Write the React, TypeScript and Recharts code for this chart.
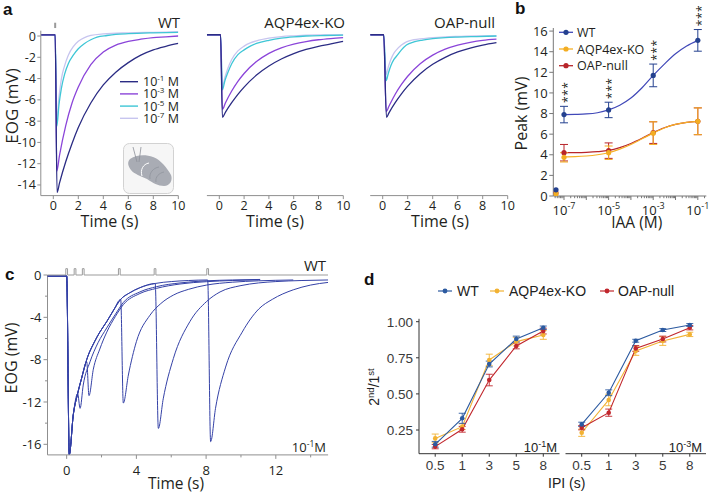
import React from 'react';
import { LineChart, ComposedChart, Line, XAxis, YAxis, ErrorBar, ReferenceLine, Legend, LabelList } from 'recharts';

const W = 709;
const H = 493;
const SANS = '"Open Sans", "Noto Sans", sans-serif';
const ARIAL = '"Liberation Sans", Arial, sans-serif';
const AXIS_GRAY = '#8f8f8f';
const TEXT = '#231f20';

type Pt = [number, number];

// ---------------- Panel a data ----------------
const aConcLabels = ['-1', '-3', '-5', '-7'];
const aColors = ['#2b2c84', '#8b45d9', '#3fc6d6', '#c7c5ef'];
const aTimeTicks = [0, 2, 4, 6, 8, 10];
const aVoltTicks = [0, -2, -4, -6, -8, -10, -12, -14];

const wt1: Pt[] = [[-1, 0.1], [0.15, 0.1], [0.3, -14.7], [0.5, -13.8], [1, -11.8], [1.5, -10.1], [2, -8.6], [3, -6.3], [4, -4.6], [5, -3.4], [6, -2.5], [7, -1.8], [8, -1.3], [9, -0.97], [10, -0.7]];
const wt3: Pt[] = [[-1, 0.1], [0.15, 0.1], [0.28, -12.7], [0.5, -11.2], [1, -8.4], [1.5, -6.3], [2, -4.8], [3, -2.7], [4, -1.5], [5, -0.85], [6, -0.5], [7, -0.3], [8, -0.15], [9, -0.08], [10, 0]];
const wt5: Pt[] = [[-1, 0.1], [0.15, 0.1], [0.28, -8.5], [0.45, -6.5], [0.65, -4.9], [0.9, -3.6], [1.2, -2.6], [1.6, -1.8], [2, -1.2], [2.5, -0.7], [3, -0.35], [3.5, -0.1], [4.3, 0.05], [5, 0.15], [6, 0.22], [8, 0.3], [10, 0.35]];
const wt7: Pt[] = [[-1, 0.1], [0.15, 0.1], [0.27, -8.0], [0.45, -5.8], [0.65, -4.0], [0.9, -2.8], [1.2, -1.8], [1.6, -1.0], [2, -0.5], [2.5, -0.15], [3, 0.05], [4, 0.2], [6, 0.3], [8, 0.35], [10, 0.4]];

const kq1: Pt[] = [[-1, 0.12], [0.1, 0.12], [0.25, -7.65], [0.5, -7.15], [1, -6.27], [1.5, -5.48], [2, -4.8], [3, -3.67], [4, -2.82], [5, -2.16], [6, -1.65], [7, -1.26], [8, -0.97], [9, -0.74], [10, -0.5]];
const kq3: Pt[] = [[-1, 0.12], [0.1, 0.12], [0.25, -6.9], [0.5, -6.27], [1, -5.17], [1.5, -4.26], [2, -3.52], [3, -2.4], [4, -1.63], [5, -1.11], [6, -0.76], [7, -0.52], [8, -0.35], [9, -0.24], [10, -0.16]];
const kq5: Pt[] = [[-1, 0.12], [0.1, 0.12], [0.25, -5.07], [0.45, -4.2], [0.7, -3.4], [1, -2.6], [1.5, -1.75], [2, -1.3], [2.5, -0.95], [3, -0.7], [4, -0.4], [5, -0.2], [6, -0.08], [7, 0], [8.5, 0.05], [10, 0.08]];
const kq7: Pt[] = [[-1, 0.12], [0.1, 0.12], [0.25, -4.8], [0.45, -3.9], [0.7, -3.0], [1, -2.2], [1.5, -1.4], [2, -0.95], [2.5, -0.65], [3, -0.45], [4, -0.2], [5, -0.05], [6, 0.02], [8, 0.1], [10, 0.12]];

const op1: Pt[] = [[-1, 0.12], [0.08, 0.12], [0.3, -7.65], [0.5, -7.22], [1, -6.26], [1.5, -5.43], [2, -4.71], [3, -3.54], [4, -2.66], [5, -2.0], [6, -1.5], [7, -1.13], [8, -0.85], [9.1, -0.62]];
const op3: Pt[] = [[-1, 0.12], [0.08, 0.12], [0.28, -7.1], [0.5, -6.6], [1, -5.47], [1.5, -4.55], [2, -3.78], [3, -2.61], [4, -1.8], [5, -1.24], [6, -0.86], [7, -0.6], [8, -0.41], [9.1, -0.3]];
const op5: Pt[] = [[-1, 0.12], [0.08, 0.12], [0.28, -4.2], [0.45, -3.5], [0.65, -2.8], [0.9, -2.2], [1.1, -1.9], [1.5, -1.3], [1.9, -0.85], [2.5, -0.55], [3.2, -0.38], [4, -0.25], [5, -0.15], [6, -0.1], [7.5, -0.05], [9.1, 0]];
const op7: Pt[] = [[-1, 0.12], [0.08, 0.12], [0.27, -3.6], [0.45, -2.9], [0.65, -2.2], [0.9, -1.6], [1.1, -1.3], [1.5, -0.85], [1.9, -0.55], [2.5, -0.35], [3.2, -0.25], [4, -0.15], [5, -0.08], [6, -0.04], [7.5, 0], [9.1, 0]];

// ---------------- Panel b data ----------------
const bExp = [-7, -5, -3, -1];
const bWT = [7.9, 8.35, 11.7, 15.1];
const bWTerr = [0.8, 0.75, 1.1, 1.05];
const bKO = [3.75, 4.2, 6.1, 7.25];
const bKOerr = [0.45, 0.65, 1.1, 1.3];
const bOAP = [4.2, 4.4, 6.15, 7.25];
const bOAPerr = [0.8, 0.75, 1.05, 1.3];
const bZeroX = -7.36;
const bZero = [0.6, 0.2, 0.3];
const bFitX = [-7, -6.5, -6, -5.5, -5, -4.5, -4, -3.5, -3, -2.5, -2, -1.5, -1];
const bWTfit = [7.9, 7.92, 7.96, 8.08, 8.35, 8.8, 9.5, 10.5, 11.7, 12.8, 13.8, 14.55, 15.1];
const bKOfit = [3.8, 3.82, 3.88, 4.0, 4.2, 4.55, 5.0, 5.55, 6.1, 6.6, 6.95, 7.15, 7.25];
const bOAPfit = [4.2, 4.21, 4.24, 4.3, 4.42, 4.7, 5.1, 5.6, 6.15, 6.62, 6.95, 7.15, 7.25];
const bSig = ['***', '***', '***', '***'];
const bGroups = ['WT', 'AQP4ex-KO', 'OAP-null'];
const bColors = ['#24418f', '#f3ad22', '#b8252a'];
const bFitColors = ['#4048b8', '#f6b026', '#b8252a'];
const bYTicks = [0, 2, 4, 6, 8, 10, 12, 14, 16];

// ---------------- Panel c data ----------------
const cStimTimes = [0, 0.48, 0.95, 3.02, 5.07, 8.09];
const c05: Pt[] = [[-1.1, -0.1], [0, -0.1], [0.15, -16.95], [0.38, -13.2], [0.63, -11.2], [0.77, -12.6], [0.95, -10.4], [1.34, -8.2], [1.8, -6.4], [2.3, -5.0], [2.8, -3.7], [3.25, -2.6], [4.2, -1.6], [5.16, -1.1], [6.5, -0.75], [8, -0.55], [9.5, -0.47], [11.1, -0.42]];
const c1: Pt[] = [[-1.1, -0.1], [0, -0.1], [0.15, -16.95], [0.38, -13.2], [0.63, -11.2], [0.85, -9.8], [1.15, -8.2], [1.28, -11.4], [1.53, -8.9], [1.9, -7.0], [2.3, -5.4], [2.8, -3.9], [3.25, -2.8], [4.2, -1.75], [5.16, -1.26], [6.5, -0.85], [8.03, -0.63], [9.5, -0.52], [11.1, -0.45]];
const c3: Pt[] = [[-1.1, -0.1], [0, -0.1], [0.15, -16.95], [0.38, -13.2], [0.63, -11.2], [0.85, -9.8], [1.15, -8.0], [1.6, -6.3], [1.9, -5.4], [2.3, -4.4], [2.7, -3.3], [3.1, -2.3], [3.25, -12.1], [3.54, -9.45], [4.0, -6.3], [4.78, -3.8], [5.4, -2.7], [6.12, -1.9], [7, -1.35], [8.03, -0.95], [9.5, -0.68], [11, -0.55], [13, -0.47]];
const c5: Pt[] = [[-1.1, -0.1], [0, -0.1], [0.15, -16.95], [0.38, -13.2], [0.63, -11.2], [0.85, -9.8], [1.15, -8.0], [1.6, -6.3], [1.9, -5.4], [2.3, -4.4], [2.7, -3.3], [3.1, -2.3], [3.6, -1.7], [4.2, -1.2], [5.08, -0.8], [5.26, -14.5], [5.54, -11.7], [6.12, -7.9], [7.07, -4.4], [8.03, -2.5], [8.8, -1.6], [10, -1.0], [11, -0.75], [12, -0.62], [13.5, -0.52], [15, -0.47]];
const c8: Pt[] = [[-1.1, -0.1], [0, -0.1], [0.15, -16.95], [0.38, -13.2], [0.63, -11.2], [0.85, -9.8], [1.15, -8.0], [1.6, -6.3], [1.9, -5.4], [2.3, -4.4], [2.7, -3.3], [3.1, -2.3], [3.6, -1.7], [4.2, -1.2], [5.08, -0.8], [6, -0.62], [7, -0.52], [8.09, -0.47], [8.26, -15.75], [8.54, -12.6], [9.12, -8.7], [10.07, -5.4], [11.03, -3.2], [11.8, -2.3], [13, -1.4], [14, -0.95], [15, -0.7]];
const cTimeTicks = [0, 2, 4, 6, 8, 10, 12, 14];
const cVoltTicks = [-16, -14, -12, -10, -8, -6, -4, -2, 0];

// ---------------- Panel d data ----------------
const ipiLabels = ['0.5', '1', '3', '5', '8'];
const dGroups = ['WT', 'AQP4ex-KO', 'OAP-null'];
const dColors = ['#2c5aa0', '#f2b233', '#c1272d'];
const dWT1 = [0.151, 0.331, 0.707, 0.88, 0.958];
const dWT1err = [0.02, 0.035, 0.02, 0.02, 0.012];
const dKO1 = [0.192, 0.273, 0.735, 0.862, 0.908];
const dKO1err = [0.03, 0.02, 0.04, 0.03, 0.03];
const dOAP1 = [0.135, 0.255, 0.596, 0.832, 0.935];
const dOAP1err = [0.015, 0.02, 0.04, 0.02, 0.02];
const dWT3 = [0.289, 0.508, 0.868, 0.942, 0.977];
const dWT3err = [0.015, 0.02, 0.01, 0.01, 0.01];
const dKO3 = [0.231, 0.458, 0.797, 0.866, 0.912];
const dKO3err = [0.025, 0.04, 0.03, 0.03, 0.015];
const dOAP3 = [0.266, 0.37, 0.815, 0.88, 0.958];
const dOAP3err = [0.015, 0.025, 0.02, 0.02, 0.015];
const dYTicks = [0.25, 0.5, 0.75, 1.0];

// ---------------- helpers ----------------
const rowsTV = (pts: Pt[]) => pts.map(([t, v]) => ({ t, v }));
const marginFor = (x1: number, y1: number, x2: number, y2: number, yw: number, xh: number) => ({
  left: x1 - yw, top: y1, right: W - x2, bottom: H - y2 - xh,
});

type TickOpts = {
  side: 'bottom' | 'left';
  len: (v: number) => number;
  label: (v: number) => React.ReactNode | null;
  gap: number;
  color: string;
  textColor: string;
  fontSize: number;
  fontFamily: string;
};
const makeTick = (o: TickOpts) => {
  const TickItem = (props: any) => {
    const { x, y, payload } = props;
    const v: number = payload.value;
    const L = o.len(v);
    const lab = o.label(v);
    const tp = { fontSize: o.fontSize, fontFamily: o.fontFamily, fill: o.textColor };
    if (o.side === 'bottom') {
      return (
        <g>
          {L > 0 ? <line x1={x} y1={y} x2={x} y2={y + L} stroke={o.color} strokeWidth={1} /> : null}
          {lab !== null ? <text x={x} y={y + o.gap} textAnchor="middle" {...tp}>{lab}</text> : null}
        </g>
      );
    }
    return (
      <g>
        {L > 0 ? <line x1={x - L} y1={y} x2={x} y2={y} stroke={o.color} strokeWidth={1} /> : null}
        {lab !== null ? <text x={x - o.gap} y={y} dy="0.36em" textAnchor="end" {...tp}>{lab}</text> : null}
      </g>
    );
  };
  return TickItem;
};

// ---------------- Panel a ----------------
const A_Y1 = 30.7;
const A_Y2 = 195.6;
const aXTick = makeTick({ side: 'bottom', len: () => 3.5, label: (v) => String(v), gap: 14.5, color: AXIS_GRAY, textColor: TEXT, fontSize: 12.5, fontFamily: SANS });
const aYTick = makeTick({ side: 'left', len: () => 3.5, label: (v) => String(v), gap: 5, color: AXIS_GRAY, textColor: TEXT, fontSize: 12.5, fontFamily: SANS });

const aLegend = () => (
  <svg width={72} height={56} style={{ overflow: 'visible', display: 'block' }}>
    {aConcLabels.map((lab, i) => (
      <g key={lab}>
        <line x1={4} x2={22} y1={7.7 + i * 12.2} y2={7.7 + i * 12.2} stroke={aColors[i]} strokeWidth={1.4} />
        <text x={27} y={7.7 + i * 12.2} dy="0.36em" fontSize={12.5} fontFamily={SANS} fill={TEXT}>
          10<tspan dy={-5} fontSize={8}>{lab}</tspan><tspan dy={5}> M</tspan>
        </text>
      </g>
    ))}
  </svg>
);

function TracePanel({ x1, x2, traces, showY, legend, stim }: { x1: number; x2: number; traces: Pt[][]; showY: boolean; legend?: boolean; stim?: boolean }) {
  const yw = showY ? 40 : 0;
  const order = [3, 2, 1, 0];
  return (
    <div style={{ position: 'absolute', left: 0, top: 0 }}>
      <LineChart width={W} height={H} margin={marginFor(x1, A_Y1, x2, A_Y2, yw, 30)}>
        <XAxis type="number" dataKey="t" domain={[-1, 10]} ticks={aTimeTicks} allowDataOverflow interval={0} height={30}
          tickSize={0} tickMargin={0} tickLine={false} axisLine={{ stroke: AXIS_GRAY, strokeWidth: 1 }} tick={aXTick} />
        <YAxis type="number" domain={[-15, 0.5]} ticks={aVoltTicks} allowDataOverflow interval={0} width={yw} hide={!showY}
          tickSize={0} tickMargin={0} tickLine={false} axisLine={{ stroke: AXIS_GRAY, strokeWidth: 1 }} tick={aYTick} />
        {stim ? (
          <ReferenceLine segment={[{ x: 0.15, y: 0.75 }, { x: 0.15, y: 1.25 }]} stroke="#9a9a9a" strokeWidth={2} ifOverflow="visible" />
        ) : null}
        {order.map((i) => (
          <Line key={i} data={rowsTV(traces[i])} dataKey="v" type="monotone" stroke={aColors[i]} strokeWidth={1.3}
            dot={false} activeDot={false} isAnimationActive={false} />
        ))}
        {legend ? (
          <Legend layout="vertical" align="center" verticalAlign="middle" content={aLegend}
            wrapperStyle={{ left: 116, top: 74, width: 72, height: 56 }} />
        ) : null}
      </LineChart>
    </div>
  );
}

// ---------------- Panel b ----------------
const B_X1 = 553.3, B_X2 = 706.3, B_Y1 = 28.0, B_Y2 = 196;
const bMinorTicks: number[] = [];
for (let n = -8; n <= -1; n++) {
  for (let k = 2; k <= 9; k++) {
    const v = n + Math.log10(k);
    if (v > -7.48 && v < -0.62) bMinorTicks.push(v);
  }
}
const bDecades = [-7, -6, -5, -4, -3, -2, -1];
const bAllTicks = [...bDecades, ...bMinorTicks].sort((a, b) => a - b);
const bXTick = makeTick({
  side: 'bottom',
  len: (v) => (Number.isInteger(v) ? 4 : 2.2),
  label: (v) => (bExp.includes(v) ? <>10<tspan dy={-5.5} fontSize={9}>{String(v)}</tspan></> : null),
  gap: 18.5, color: '#777', textColor: TEXT, fontSize: 13, fontFamily: SANS,
});
const bYTick = makeTick({ side: 'left', len: () => 4, label: (v) => String(v), gap: 5.5, color: '#777', textColor: TEXT, fontSize: 13, fontFamily: SANS });

const bPts = (ys: number[], es: number[]) => bExp.map((x, i) => ({ x, y: ys[i], err: es[i] }));
const bFit = (ys: number[]) => bFitX.map((x, i) => ({ x, y: ys[i] }));
const bZeroRows = (i: number) => [{ x: bZeroX, y: bZero[i] }];
const bSigRows = bExp.map((x, i) => ({ x, y: bWT[i] + bWTerr[i], sig: bSig[i] }));

const renderStars = (props: any) => {
  const { x, y, value } = props;
  const cx = x + 3.5;
  const cy = y - 14;
  return (
    <text x={cx} y={cy} transform={`rotate(-90 ${cx} ${cy})`} textAnchor="middle" dy="0.36em" fontSize={12} fontFamily={SANS} fill={TEXT} letterSpacing={0.5}>
      {value}
    </text>
  );
};

const bLegend = () => (
  <svg width={110} height={52} style={{ overflow: 'visible', display: 'block' }}>
    {bGroups.map((g, i) => (
      <g key={g}>
        <line x1={5} x2={19} y1={8.3 + i * 16.7} y2={8.3 + i * 16.7} stroke={bFitColors[i]} strokeWidth={1.3} />
        <circle cx={12} cy={8.3 + i * 16.7} r={2.6} fill={bColors[i]} />
        <text x={23} y={8.3 + i * 16.7} dy="0.36em" fontSize={12.5} fontFamily={SANS} fill={TEXT}>{g}</text>
      </g>
    ))}
  </svg>
);

function PanelB() {
  const series = [
    { fit: bWTfit, pts: bPts(bWT, bWTerr) },
    { fit: bKOfit, pts: bPts(bKO, bKOerr) },
    { fit: bOAPfit, pts: bPts(bOAP, bOAPerr) },
  ];
  const drawOrder = [2, 1, 0];
  return (
    <div style={{ position: 'absolute', left: 0, top: 0 }}>
      <ComposedChart width={W} height={H} margin={marginFor(B_X1, B_Y1, B_X2, B_Y2, 45, 30)}>
        <XAxis type="number" dataKey="x" domain={[-7.48, -0.62]} ticks={bAllTicks} allowDataOverflow interval={0} height={30}
          tickSize={0} tickMargin={0} tickLine={false} axisLine={{ stroke: '#777', strokeWidth: 1 }} tick={bXTick} />
        <YAxis type="number" domain={[0, 16.3]} ticks={bYTicks} allowDataOverflow interval={0} width={45}
          tickSize={0} tickMargin={0} tickLine={false} axisLine={{ stroke: '#777', strokeWidth: 1 }} tick={bYTick} />
        {drawOrder.map((i) => (
          <Line key={`fit${i}`} data={bFit(series[i].fit)} dataKey="y" type="monotone" stroke={bFitColors[i]} strokeWidth={1.2}
            dot={false} activeDot={false} isAnimationActive={false} />
        ))}
        {drawOrder.map((i) => (
          <Line key={`pts${i}`} data={series[i].pts} dataKey="y" stroke="none" activeDot={false}
            dot={{ r: 2.6, fill: bColors[i], stroke: bColors[i], strokeWidth: 0 }} isAnimationActive={false}>
            <ErrorBar dataKey="err" width={4} stroke={bColors[i]} strokeWidth={1} direction="y" isAnimationActive={false} />
          </Line>
        ))}
        {drawOrder.map((i) => (
          <Line key={`zero${i}`} data={bZeroRows(i)} dataKey="y" stroke="none" activeDot={false}
            dot={{ r: 2.6, fill: bColors[i], stroke: bColors[i], strokeWidth: 0 }} isAnimationActive={false} />
        ))}
        <Line data={bSigRows} dataKey="y" stroke="none" dot={false} activeDot={false} isAnimationActive={false}>
          <LabelList dataKey="sig" content={renderStars} />
        </Line>
        <Legend layout="vertical" align="center" verticalAlign="middle" content={bLegend}
          wrapperStyle={{ left: 554, top: 24, width: 110, height: 52 }} />
      </ComposedChart>
    </div>
  );
}

// ---------------- Panel c ----------------
const C_X1 = 47.5, C_X2 = 328.1, C_Y1 = 267.6, C_Y2 = 454.9;
const cXTick = makeTick({
  side: 'bottom', len: (v) => (v % 4 === 0 ? 4 : 2.5), label: (v) => (v % 4 === 0 ? String(v) : null),
  gap: 20, color: AXIS_GRAY, textColor: TEXT, fontSize: 13, fontFamily: SANS,
});
const cYTick = makeTick({
  side: 'left', len: (v) => (v % 4 === 0 ? 4 : 2.5), label: (v) => (v % 4 === 0 ? String(v) : null),
  gap: 6, color: AXIS_GRAY, textColor: TEXT, fontSize: 13, fontFamily: SANS,
});
const stimRows = (() => {
  const rows: { t: number; v: number }[] = [{ t: -1.1, v: 0 }];
  cStimTimes.forEach((s) => {
    rows.push({ t: s - 0.05, v: 0 }, { t: s - 0.05, v: 0.6 }, { t: s + 0.05, v: 0.6 }, { t: s + 0.05, v: 0 });
  });
  rows.push({ t: 15, v: 0 });
  return rows;
})();

function PanelC() {
  const traces = [c8, c5, c3, c1, c05];
  return (
    <div style={{ position: 'absolute', left: 0, top: 0 }}>
      <LineChart width={W} height={H} margin={marginFor(C_X1, C_Y1, C_X2, C_Y2, 42, 30)}>
        <XAxis type="number" dataKey="t" domain={[-1.1, 15]} ticks={cTimeTicks} allowDataOverflow interval={0} height={30}
          tickSize={0} tickMargin={0} tickLine={false} axisLine={{ stroke: AXIS_GRAY, strokeWidth: 1 }} tick={cXTick} />
        <YAxis type="number" domain={[-17, 0.7]} ticks={cVoltTicks} allowDataOverflow interval={0} width={42}
          tickSize={0} tickMargin={0} tickLine={false} axisLine={false} tick={cYTick} />
        <ReferenceLine segment={[{ x: -1.1, y: -17 }, { x: -1.1, y: 0 }]} stroke={AXIS_GRAY} strokeWidth={1} ifOverflow="visible" />
        {traces.map((tr, i) => (
          <Line key={i} data={rowsTV(tr)} dataKey="v" type="monotone" stroke="#3441a6" strokeWidth={1}
            dot={false} activeDot={false} isAnimationActive={false} />
        ))}
        <Line data={stimRows} dataKey="v" type="linear" stroke="#9b9b9b" strokeWidth={1} dot={false} activeDot={false} isAnimationActive={false} />
      </LineChart>
    </div>
  );
}

// ---------------- Panel d ----------------
const D_Y1 = 318.8, D_Y2 = 453.7;
const dXTick = makeTick({
  side: 'bottom', len: () => 3, label: (v) => ipiLabels[Math.round(v) - 1], gap: 15.8,
  color: '#333', textColor: '#3a3a3a', fontSize: 13.5, fontFamily: ARIAL,
});
const dYTick = makeTick({
  side: 'left', len: () => 3, label: (v) => v.toFixed(2), gap: 6,
  color: '#333', textColor: '#3a3a3a', fontSize: 13.5, fontFamily: ARIAL,
});
const dRows = (ys: number[], es: number[]) => ys.map((y, i) => ({ x: i + 1, y, err: es[i] }));

const dLegend = () => {
  const items = [
    { lx: 8, tx: 27 },
    { lx: 60, tx: 79 },
    { lx: 170, tx: 188 },
  ];
  return (
    <svg width={250} height={18} style={{ overflow: 'visible', display: 'block' }}>
      {dGroups.map((g, i) => (
        <g key={g}>
          <line x1={items[i].lx} x2={items[i].lx + 14} y1={9} y2={9} stroke={dColors[i]} strokeWidth={1.2} />
          <circle cx={items[i].lx + 7} cy={9} r={2.4} fill={dColors[i]} />
          <text x={items[i].tx} y={9} dy="0.36em" fontSize={14} fontFamily={ARIAL} fill="#222">{g}</text>
        </g>
      ))}
    </svg>
  );
};

function PanelD({ x1, x2, sets, showY, legend }: { x1: number; x2: number; sets: { y: number[]; e: number[] }[]; showY: boolean; legend?: boolean }) {
  const yw = showY ? 45 : 0;
  const order = [1, 2, 0];
  return (
    <div style={{ position: 'absolute', left: 0, top: 0 }}>
      <ComposedChart width={W} height={H} margin={marginFor(x1, D_Y1, x2, D_Y2, yw, 30)}>
        <XAxis type="number" dataKey="x" domain={[0.4, 5.6]} ticks={[1, 2, 3, 4, 5]} allowDataOverflow interval={0} height={30}
          tickSize={0} tickMargin={0} tickLine={false} axisLine={{ stroke: '#333', strokeWidth: 1 }} tick={dXTick} />
        <YAxis type="number" domain={[0.086, 1.02]} ticks={dYTicks} allowDataOverflow interval={0} width={yw} hide={!showY}
          tickSize={0} tickMargin={0} tickLine={false} axisLine={{ stroke: '#333', strokeWidth: 1 }} tick={dYTick} />
        {order.map((i) => (
          <Line key={i} data={dRows(sets[i].y, sets[i].e)} dataKey="y" type="linear" stroke={dColors[i]} strokeWidth={1.1}
            dot={{ r: 2.3, fill: dColors[i], stroke: dColors[i], strokeWidth: 0 }} activeDot={false} isAnimationActive={false}>
            <ErrorBar dataKey="err" width={3.5} stroke={dColors[i]} strokeWidth={0.9} direction="y" isAnimationActive={false} />
          </Line>
        ))}
        {legend ? (
          <Legend layout="vertical" align="center" verticalAlign="middle" content={dLegend}
            wrapperStyle={{ left: 430, top: 282, width: 250, height: 18 }} />
        ) : null}
      </ComposedChart>
    </div>
  );
}

// ---------------- Inset illustration ----------------
function Inset() {
  return (
    <svg width={52} height={52} style={{ position: 'absolute', left: 122.5, top: 142.5 }}>
      <rect x={0.5} y={0.5} width={50} height={50} rx={6} fill="#f6f6f6" stroke="#d2d2d2" />
      <path d="M7 16 C12 12 22 11 30 14 C38 17 44 25 48 32 C50 37 47 43 41 43 C35 43 30 40 24 36 C18 33 11 31 8 27 C5 23 4 19 7 16 Z" fill="#a9acb4" />
      <path d="M19 33 C17 27 20 21 26 20" stroke="#fff" strokeWidth={1} fill="none" />
      <path d="M27 36 C26 30 30 25 36 24" stroke="#8d9099" strokeWidth={0.7} fill="none" />
      <path d="M33 39 C32 34 36 30 41 29" stroke="#8d9099" strokeWidth={0.7} fill="none" />
      <line x1={10} y1={4} x2={14} y2={19} stroke="#8d9099" strokeWidth={0.8} />
      <line x1={18} y1={4} x2={16} y2={19} stroke="#8d9099" strokeWidth={0.8} />
    </svg>
  );
}

// ---------------- Static texts ----------------
function Texts() {
  const t = { fontFamily: SANS, fill: TEXT };
  const bold = { fontFamily: ARIAL, fontWeight: 700, fontSize: 17, fill: '#111' };
  return (
    <svg width={W} height={H} style={{ position: 'absolute', left: 0, top: 0, pointerEvents: 'none' }}>
      <text x={3} y={15} {...bold}>a</text>
      <text x={515} y={14} {...bold}>b</text>
      <text x={5} y={280} {...bold}>c</text>
      <text x={364} y={285} {...bold}>d</text>

      <text x={180} y={28} textAnchor="end" fontSize={15} {...t}>WT</text>
      <text x={345} y={28} textAnchor="end" fontSize={15} {...t}>AQP4ex-KO</text>
      <text x={495} y={28} textAnchor="end" fontSize={15} {...t}>OAP-null</text>
      <text x={12} y={106} transform="rotate(-90 12 106)" textAnchor="middle" dy="0.36em" fontSize={17} {...t}>EOG (mV)</text>
      <text x={109.5} y={227} textAnchor="middle" fontSize={16} {...t}>Time (s)</text>
      <text x={275} y={227} textAnchor="middle" fontSize={16} {...t}>Time (s)</text>
      <text x={440} y={227} textAnchor="middle" fontSize={16} {...t}>Time (s)</text>

      <text x={521} y={113.5} transform="rotate(-90 521 113.5)" textAnchor="middle" dy="0.36em" fontSize={16} {...t}>Peak (mV)</text>
      <text x={636.7} y={228} textAnchor="middle" fontSize={15.5} {...t}>IAA (M)</text>

      <text x={326} y={271} textAnchor="end" fontSize={15} {...t}>WT</text>
      <text x={11} y={358} transform="rotate(-90 11 358)" textAnchor="middle" dy="0.36em" fontSize={16} {...t}>EOG (mV)</text>
      <text x={176} y={489} textAnchor="middle" fontSize={15.5} {...t}>Time (s)</text>
      <text x={326} y={452} textAnchor="end" fontSize={13} {...t}>10<tspan dy={-5} fontSize={8.5}>-1</tspan><tspan dy={5}>M</tspan></text>

      <text x={374} y={387} transform="rotate(-90 374 387)" textAnchor="middle" dy="0.36em" fontSize={14} fontFamily={ARIAL} fill="#222">
        2<tspan dy={-5} fontSize={9.5}>nd</tspan><tspan dy={5}>/1</tspan><tspan dy={-5} fontSize={9.5}>st</tspan>
      </text>
      <text x={566.7} y={488} textAnchor="middle" fontSize={14} fontFamily={ARIAL} fill="#222">IPI (s)</text>
      <text x={557} y={451.5} textAnchor="end" fontSize={13} fontFamily={ARIAL} fill="#222">10<tspan dy={-5} fontSize={9}>-1</tspan><tspan dy={5}>M</tspan></text>
      <text x={702} y={451.5} textAnchor="end" fontSize={13} fontFamily={ARIAL} fill="#222">10<tspan dy={-5} fontSize={9}>-3</tspan><tspan dy={5}>M</tspan></text>
    </svg>
  );
}

export default function App() {
  return (
    <div style={{ position: 'absolute', left: 0, top: 0, width: W, height: H, background: '#fff', overflow: 'hidden' }}>
      <TracePanel x1={40.8} x2={178.3} traces={[wt1, wt3, wt5, wt7]} showY legend stim />
      <TracePanel x1={206.9} x2={343.3} traces={[kq1, kq3, kq5, kq7]} showY={false} />
      <TracePanel x1={370.2} x2={507.7} traces={[op1, op3, op5, op7]} showY={false} />
      <Inset />
      <PanelB />
      <PanelC />
      <PanelD x1={419} x2={559.5} showY legend sets={[{ y: dWT1, e: dWT1err }, { y: dKO1, e: dKO1err }, { y: dOAP1, e: dOAP1err }]} />
      <PanelD x1={565.5} x2={706} showY={false} sets={[{ y: dWT3, e: dWT3err }, { y: dKO3, e: dKO3err }, { y: dOAP3, e: dOAP3err }]} />
      <Texts />
    </div>
  );
}
